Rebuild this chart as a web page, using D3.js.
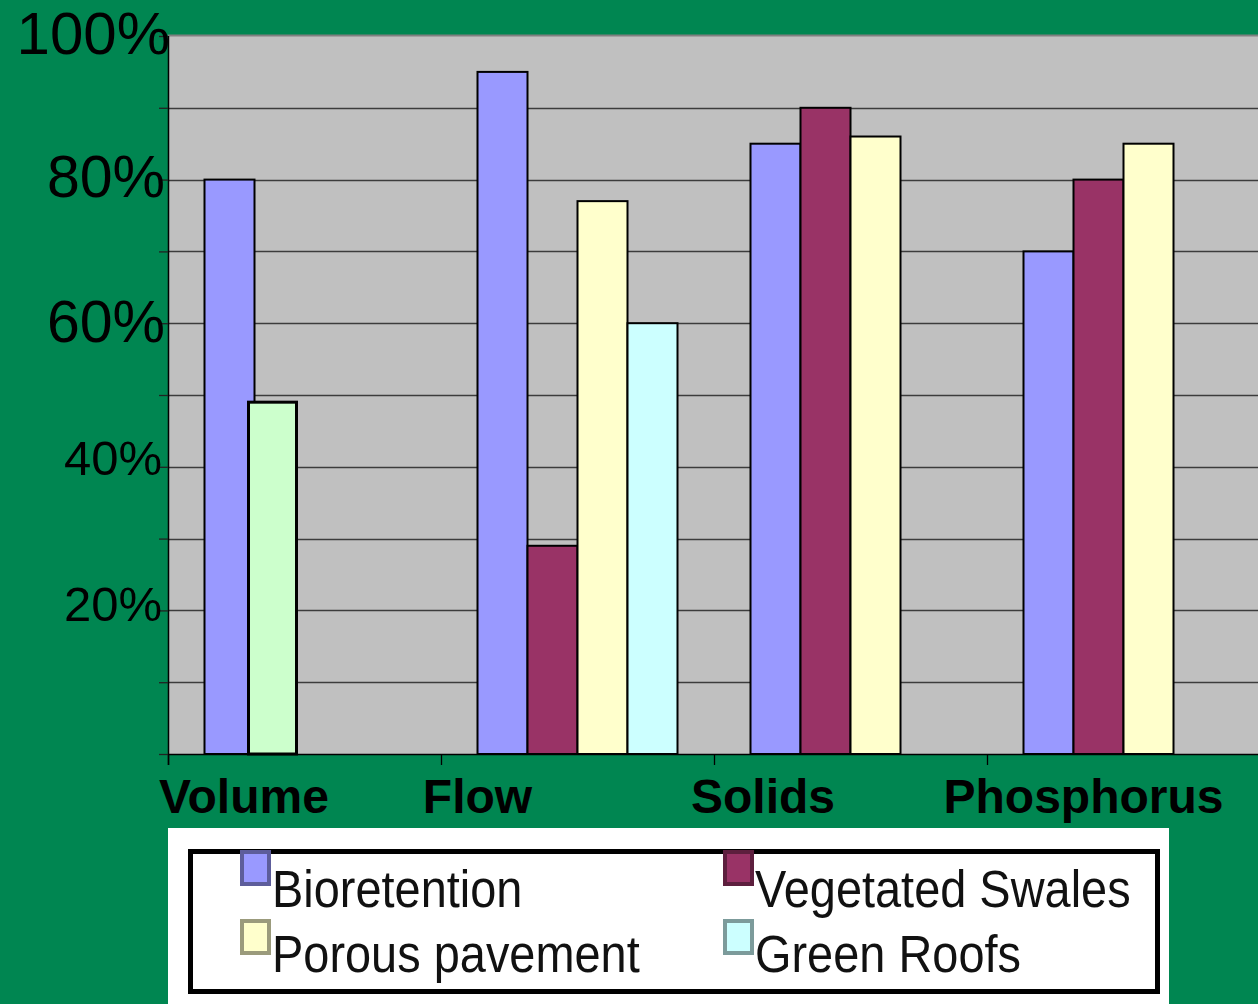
<!DOCTYPE html>
<html>
<head>
<meta charset="utf-8">
<script src="https://cdn.jsdelivr.net/npm/d3@7"></script>
<style>
  html, body { margin: 0; padding: 0; background: #008651; }
  svg { display: block; }
</style>
</head>
<body>
<svg id="chart" width="1258" height="1004"></svg>
<script>
// ---- data ----
const categories = ["Volume", "Flow", "Solids", "Phosphorus"];
const seriesNames = ["Bioretention", "Vegetated Swales", "Porous pavement", "Green Roofs"];
const bioretention    = [80, 95, 85, 70];
const vegetatedSwales = [null, 29, 90, 80];
const porousPavement  = [null, 77, 86, 85];
const greenRoofs      = [null, 60, null, null];
// separate light-green column drawn over the Volume group
const volumeOverlay   = [49, null, null, null];
const yTickValues = [0, 10, 20, 30, 40, 50, 60, 70, 80, 90, 100];
const yLabelValues = [20, 40, 60, 80, 100];

const seriesValues = [bioretention, vegetatedSwales, porousPavement, greenRoofs];
const seriesColors = ["#9999ff", "#993366", "#ffffcc", "#ccffff"];
const overlayColor = "#ccffcc";

// ---- layout ----
const W = 1258, H = 1004;
const plot = { left: 168, right: 1260, top: 36, bottom: 754 };
const labelOffsets = [76, 36.5, 49, 96.5];      // category label centre from band start
const yLabelStyle = {                             // per-label size / nudges
  20:  { size: 49, dx: -6, dy: 10.6 },
  40:  { size: 49, dx: -6, dy: 8.2 },
  60:  { size: 59, dx: -3, dy: 18.8 },
  80:  { size: 59, dx: -3, dy: 17.6 },
  100: { size: 60, dx: 2,  dy: 18 }
};

const svg = d3.select("#chart");

svg.append("rect").attr("width", W).attr("height", H).attr("fill", "#008651");

// scales
const x = d3.scaleBand().domain(categories).range([plot.left, plot.right]).padding(0);
const barW = 50;
const xInner = d3.scaleBand().domain(seriesNames)
  .range([0, x.bandwidth()])
  .paddingInner(0)
  .paddingOuter((x.bandwidth() - barW * seriesNames.length) / 2 / barW);
const y = d3.scaleLinear().domain([0, 100]).range([plot.bottom, plot.top]);

// plot area
svg.append("rect")
  .attr("x", plot.left).attr("y", plot.top)
  .attr("width", plot.right - plot.left).attr("height", plot.bottom - plot.top)
  .attr("fill", "#c0c0c0");
svg.append("line")
  .attr("x1", plot.left).attr("x2", plot.right)
  .attr("y1", plot.top - 0.5).attr("y2", plot.top - 0.5)
  .attr("stroke", "#808080").attr("stroke-width", 2);

// gridlines
svg.append("g").selectAll("line")
  .data(yTickValues.filter(v => v > 0 && v < 100))
  .join("line")
  .attr("x1", plot.left).attr("x2", plot.right)
  .attr("y1", d => Math.round(y(d)) + 0.5).attr("y2", d => Math.round(y(d)) + 0.5)
  .attr("stroke", "#3c3c3c").attr("stroke-width", 1.4);

// bars
const barData = [];
seriesValues.forEach((vals, s) => {
  vals.forEach((v, c) => {
    if (v != null) barData.push({ cat: categories[c], series: seriesNames[s], value: v, color: seriesColors[s] });
  });
});
svg.append("g").selectAll("rect")
  .data(barData)
  .join("rect")
  .attr("x", d => x(d.cat) + xInner(d.series))
  .attr("y", d => y(d.value))
  .attr("width", xInner.bandwidth())
  .attr("height", d => y(0) - y(d.value))
  .attr("fill", d => d.color)
  .attr("stroke", "#000").attr("stroke-width", 2);

// overlay column (sits slightly left of the second slot)
const overlayData = volumeOverlay
  .map((v, c) => ({ cat: categories[c], value: v }))
  .filter(d => d.value != null);
svg.append("g").selectAll("rect")
  .data(overlayData)
  .join("rect")
  .attr("x", d => x(d.cat) + xInner(seriesNames[1]) - 6)
  .attr("y", d => y(d.value))
  .attr("width", xInner.bandwidth() - 2)
  .attr("height", d => y(0) - y(d.value))
  .attr("fill", overlayColor)
  .attr("stroke", "#000").attr("stroke-width", 3);

// y axis
const yAxis = svg.append("g")
  .attr("transform", `translate(${plot.left},0)`)
  .call(d3.axisLeft(y).tickValues(yTickValues).tickSize(9).tickFormat(""));
yAxis.select(".domain").attr("stroke", "#000").attr("stroke-width", 1.5)
  .attr("d", `M0.5,${plot.top}V${plot.bottom + 11}`);
yAxis.selectAll(".tick line").attr("stroke", "#222").attr("stroke-width", 1.3);

svg.append("g").selectAll("text")
  .data(yLabelValues)
  .join("text")
  .attr("x", d => plot.left + yLabelStyle[d].dx)
  .attr("y", d => y(d) + yLabelStyle[d].dy)
  .attr("text-anchor", "end")
  .attr("font-family", "'Liberation Sans', Arial, sans-serif")
  .attr("font-size", d => yLabelStyle[d].size)
  .attr("fill", "#000")
  .text(d => d + "%");

// x axis baseline and category ticks
svg.append("line")
  .attr("x1", plot.left).attr("x2", plot.right)
  .attr("y1", plot.bottom + 0.5).attr("y2", plot.bottom + 0.5)
  .attr("stroke", "#000").attr("stroke-width", 1.5);
svg.append("g").selectAll("line")
  .data(categories)
  .join("line")
  .attr("x1", d => Math.round(x(d)) + 0.5).attr("x2", d => Math.round(x(d)) + 0.5)
  .attr("y1", plot.bottom).attr("y2", plot.bottom + 11)
  .attr("stroke", "#000").attr("stroke-width", 1.3);

svg.append("g").selectAll("text")
  .data(categories)
  .join("text")
  .attr("x", (d, i) => x(d) + labelOffsets[i])
  .attr("y", 813)
  .attr("text-anchor", "middle")
  .attr("font-family", "'Liberation Sans', Arial, sans-serif")
  .attr("font-weight", "bold")
  .attr("font-size", 48)
  .attr("fill", "#000")
  .text(d => d);

// legend
const legend = svg.append("g");
legend.append("rect")
  .attr("x", 168).attr("y", 828).attr("width", 1001).attr("height", 180)
  .attr("fill", "#fff");
legend.append("rect")
  .attr("x", 190.5).attr("y", 851.5).attr("width", 967).attr("height", 140)
  .attr("fill", "none").attr("stroke", "#000").attr("stroke-width", 5);

const legendCols = [240, 723];
const legendRows = [850, 919];
const legendBaselines = [907, 972];
const items = legend.selectAll("g.item")
  .data(seriesNames.map((n, i) => ({ name: n, color: seriesColors[i], i })))
  .join("g")
  .attr("class", "item");
items.append("rect")
  .attr("x", d => legendCols[d.i % 2] + 2)
  .attr("y", d => legendRows[Math.floor(d.i / 2)] + 2)
  .attr("width", 27).attr("height", 32)
  .attr("fill", d => d.color)
  .attr("stroke", d => d3.color(d.color).darker(1.4))
  .attr("stroke-width", 4);
items.append("text")
  .attr("transform", d =>
    `translate(${legendCols[d.i % 2] + 32},${legendBaselines[Math.floor(d.i / 2)]}) scale(0.92,1)`)
  .attr("font-family", "'Liberation Sans', Arial, sans-serif")
  .attr("font-size", 51)
  .attr("fill", "#111")
  .text(d => d.name);
</script>
</body>
</html>
